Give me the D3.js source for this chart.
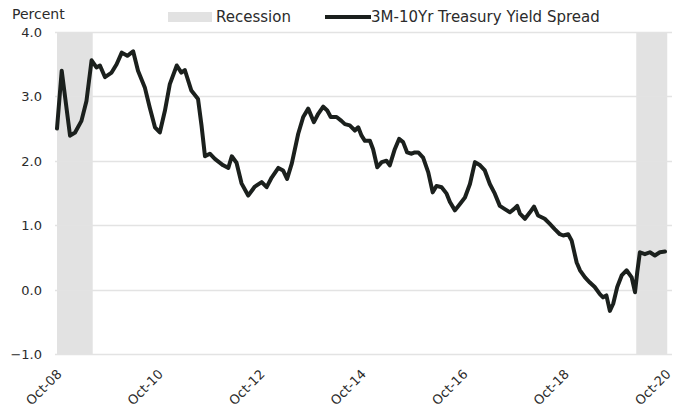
<!DOCTYPE html>
<html>
<head>
<meta charset="utf-8">
<script src="https://cdn.jsdelivr.net/npm/d3@7"></script>
<style>
  html, body { margin: 0; padding: 0; background: #fff; }
  svg { display: block; }
  text { font-family: "DejaVu Sans", sans-serif; fill: #2b2b2b; }
</style>
</head>
<body>
<svg id="chart" width="682" height="417"></svg>
<script>
// ---- Data ----
const dates = [
  "2008-10-01","2008-11-04","2009-01-03","2009-02-08","2009-03-26","2009-05-01","2009-06-07","2009-07-12",
  "2009-08-06","2009-09-11","2009-10-29","2009-12-04","2010-01-10","2010-02-19","2010-04-02","2010-05-07",
  "2010-06-25","2010-07-30","2010-09-06","2010-10-11","2010-11-17","2010-12-22","2011-02-10","2011-03-15",
  "2011-04-09","2011-05-26","2011-07-13","2011-08-07","2011-09-01","2011-10-06","2011-11-11","2012-01-10",
  "2012-02-16","2012-03-12","2012-04-15","2012-05-21","2012-07-08","2012-08-25","2012-10-13","2012-11-18",
  "2012-12-24","2013-02-10","2013-03-16","2013-04-14","2013-05-18","2013-07-03","2013-08-08","2013-09-13",
  "2013-10-24","2013-11-24","2013-12-30","2014-01-28","2014-02-22","2014-04-05","2014-05-10","2014-06-04",
  "2014-07-09","2014-08-15","2014-09-08","2014-10-02","2014-10-26","2014-12-01","2014-12-24","2015-01-23",
  "2015-02-24","2015-03-30","2015-04-23","2015-05-29","2015-06-29","2015-07-28","2015-08-26","2015-09-27",
  "2015-10-20","2015-11-14","2015-12-19","2016-01-25","2016-02-26","2016-03-24","2016-04-30","2016-06-05",
  "2016-06-29","2016-08-04","2016-09-09","2016-10-15","2016-11-20","2016-12-26","2017-02-01","2017-03-07",
  "2017-04-12","2017-05-18","2017-06-23","2017-07-29","2017-09-04","2017-10-02","2017-10-26","2017-11-15",
  "2017-12-21","2018-01-26","2018-02-24","2018-03-25","2018-05-12","2018-06-18","2018-07-23","2018-08-29",
  "2018-09-22","2018-10-28","2018-11-22","2018-12-28","2019-01-21","2019-02-26","2019-04-02","2019-05-07",
  "2019-06-13","2019-07-06","2019-07-30","2019-08-24","2019-09-17","2019-10-16","2019-11-17","2019-12-22",
  "2020-01-28","2020-02-21","2020-03-08","2020-03-27","2020-05-02","2020-06-07","2020-07-13","2020-08-18",
  "2020-09-24"
];
const spread = [
  2.50,3.40,2.39,2.44,2.62,2.93,3.56,3.45,
  3.48,3.30,3.37,3.50,3.68,3.63,3.70,3.40,
  3.14,2.83,2.52,2.44,2.78,3.19,3.48,3.37,
  3.41,3.09,2.96,2.55,2.07,2.11,2.03,1.93,
  1.89,2.07,1.97,1.65,1.46,1.60,1.67,1.59,
  1.74,1.89,1.85,1.72,1.96,2.42,2.68,2.81,
  2.60,2.73,2.84,2.78,2.68,2.68,2.62,2.57,
  2.55,2.47,2.52,2.39,2.31,2.31,2.18,1.90,
  1.98,2.00,1.93,2.18,2.34,2.29,2.13,2.11,
  2.13,2.13,2.05,1.82,1.51,1.61,1.59,1.49,
  1.36,1.23,1.33,1.43,1.64,1.98,1.93,1.85,
  1.64,1.49,1.30,1.25,1.20,1.25,1.30,1.18,
  1.10,1.20,1.29,1.15,1.10,1.02,0.94,0.86,
  0.84,0.86,0.76,0.42,0.30,0.19,0.11,0.04,
  -0.07,-0.12,-0.09,-0.33,-0.22,0.04,0.22,0.30,
  0.19,-0.04,0.27,0.58,0.55,0.58,0.53,0.58,
  0.59
];
const recessionStarts = ["2008-10-01", "2020-03-01"];
const recessionEnds   = ["2009-06-15", "2020-10-10"];
const yTickValues = [-1, 0, 1, 2, 3, 4];
const xTickDates = ["2008-10-01","2010-10-01","2012-10-01","2014-10-01","2016-10-01","2018-10-01","2020-10-01"];
const seriesLabel = "3M-10Yr Treasury Yield Spread";
const recessionLabel = "Recession";
const yAxisTitle = "Percent";

// ---- Drawing ----
const parse = d3.timeParse("%Y-%m-%d");
const svg = d3.select("#chart");
const x = d3.scaleTime()
  .domain([parse("2008-10-01"), parse("2020-10-01")])
  .range([57, 666]);
const y = d3.scaleLinear().domain([-1, 4]).range([354, 32]);

// recession bands
svg.append("g").selectAll("rect")
  .data(recessionStarts.map((s, i) => ({ s: parse(s), e: parse(recessionEnds[i]) })))
  .join("rect")
  .attr("x", d => x(d.s))
  .attr("width", d => x(d.e) - x(d.s))
  .attr("y", y(4))
  .attr("height", y(-1) - y(4))
  .attr("fill", "#e2e2e2");

// gridlines
svg.append("g").selectAll("line")
  .data(yTickValues)
  .join("line")
  .attr("x1", 55).attr("x2", 672)
  .attr("y1", d => Math.round(y(d)) + 0.5)
  .attr("y2", d => Math.round(y(d)) + 0.5)
  .attr("stroke", "#e3e3e3")
  .attr("stroke-width", 1.5);

// y axis labels
const yAxis = d3.axisLeft(y).tickValues(yTickValues).tickFormat(d3.format(".1f")).tickSize(0).tickPadding(0);
const gy = svg.append("g").attr("transform", "translate(42,0)").call(yAxis);
gy.select(".domain").remove();
gy.selectAll("text").attr("font-size", 13).attr("font-family", "DejaVu Sans").attr("fill", "#333").attr("dy", "0.35em");

// x axis labels
const xAxis = d3.axisBottom(x).tickValues(xTickDates.map(parse)).tickFormat(d3.timeFormat("%b-%y")).tickSize(0);
const gx = svg.append("g").call(xAxis);
gx.select(".domain").remove();
gx.selectAll("text")
  .attr("font-size", 13).attr("font-family", "DejaVu Sans").attr("fill", "#333")
  .attr("text-anchor", "end")
  .attr("y", 0).attr("dy", 0)
  .attr("transform", "translate(5,375) rotate(-45)");

// line
const line = d3.line()
  .x((d, i) => x(parse(dates[i])))
  .y(d => y(d));
svg.append("path")
  .datum(spread)
  .attr("d", line)
  .attr("fill", "none")
  .attr("stroke", "#1b201d")
  .attr("stroke-width", 4)
  .attr("stroke-linejoin", "round")
  .attr("stroke-linecap", "round");

// title
svg.append("text").attr("x", 12).attr("y", 19).attr("font-size", 14).attr("fill", "#333").text(yAxisTitle);

// legend
svg.append("rect").attr("x", 168).attr("y", 12).attr("width", 44).attr("height", 10).attr("fill", "#e2e2e2");
svg.append("text").attr("x", 216).attr("y", 22).attr("font-size", 15).attr("fill", "#333").text(recessionLabel);
svg.append("line").attr("x1", 325).attr("x2", 371).attr("y1", 17).attr("y2", 17)
  .attr("stroke", "#1b201d").attr("stroke-width", 4);
svg.append("text").attr("x", 371).attr("y", 22).attr("font-size", 15).attr("fill", "#333").text(seriesLabel);
</script>
</body>
</html>
